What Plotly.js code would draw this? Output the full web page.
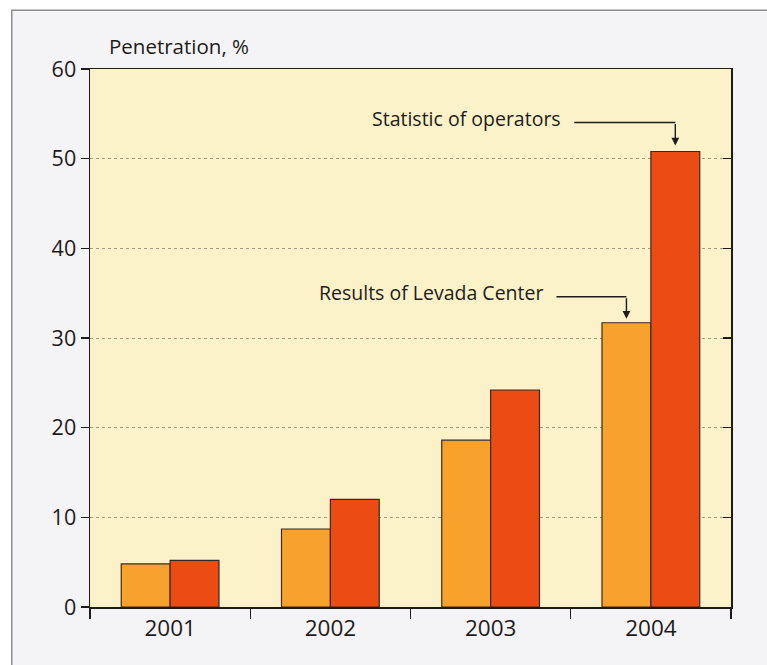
<!DOCTYPE html>
<html>
<head>
<meta charset="utf-8">
<script src="https://cdn.plot.ly/plotly-3.0.1.min.js"></script>
<style>
  html, body { margin: 0; padding: 0; background: #ffffff; }
  #chart { width: 767px; height: 665px; }
</style>
</head>
<body>
<div id="chart"></div>
<script>
// Mobile penetration by year, two sources
const years = ['2001', '2002', '2003', '2004'];
const levada = [4.8, 8.7, 18.6, 31.7];
const operators = [5.2, 12.0, 24.2, 50.8];
const yTicks = [0, 10, 20, 30, 40, 50, 60];
const axisTitle = 'Penetration, %';
const levadaLabel = 'Results of Levada Center';
const operatorsLabel = 'Statistic of operators';

const FONT = 'Open Sans, DejaVu Sans, sans-serif';
const INK = '#1f1b18';
const BARGAP = 0.39;
// centre offset of each bar inside a two-bar group, in category units
const half = (1 - BARGAP) / 4;
const last = years.length - 1;

const barLine = { color: '#3b2a1c', width: 1.2 };

const traces = [
  {
    type: 'bar', x: years, y: levada, name: levadaLabel,
    marker: { color: '#f7a22c', line: barLine },
    hoverinfo: 'x+y'
  },
  {
    type: 'bar', x: years, y: operators, name: operatorsLabel,
    marker: { color: '#ec4b14', line: barLine },
    hoverinfo: 'x+y'
  }
];

// callout: label, horizontal leader and a downward arrow onto a bar top
function callout(xIdx, yVal, label, rise, run, gap) {
  return {
    shape: {
      type: 'line', xref: 'x', yref: 'y',
      xsizemode: 'pixel', ysizemode: 'pixel',
      xanchor: xIdx, yanchor: yVal,
      x0: -run, x1: 0, y0: rise, y1: rise,
      line: { color: INK, width: 1.4 }
    },
    arrow: {
      x: xIdx, y: yVal, xref: 'x', yref: 'y',
      text: '', showarrow: true, ax: 0, ay: -rise,
      arrowhead: 2, arrowsize: 1.1, arrowwidth: 1.4, arrowcolor: INK,
      standoff: gap
    },
    text: {
      x: xIdx, y: yVal, xref: 'x', yref: 'y',
      text: label, showarrow: false,
      xanchor: 'right', yanchor: 'middle',
      xshift: -run - 11, yshift: rise + 4,
      font: { family: FONT, size: 19.5, color: INK }
    }
  };
}

const opCall = callout(last + half, operators[last], operatorsLabel, 29, 101, 6);
const lvCall = callout(last - half, levada[last], levadaLabel, 26, 70, 4);

const layout = {
  width: 767, height: 665,
  margin: { l: 90, r: 36, t: 69, b: 58 },
  paper_bgcolor: '#ffffff',
  plot_bgcolor: '#fbf2ca',
  showlegend: false,
  barmode: 'group',
  bargap: BARGAP,
  bargroupgap: 0,
  font: { family: FONT, color: INK },
  xaxis: {
    type: 'category',
    tickson: 'boundaries',
    ticks: 'outside', ticklen: 10, tickwidth: 1.3, tickcolor: INK,
    showline: true, linecolor: INK, linewidth: 1.5, mirror: true,
    showgrid: false, zeroline: false,
    tickfont: { family: FONT, size: 22.5, color: INK },
    fixedrange: true
  },
  yaxis: {
    range: [0, 60], tickvals: yTicks,
    ticks: 'outside', ticklen: 8, tickwidth: 1.3, tickcolor: INK,
    showline: true, linecolor: INK, linewidth: 1.5, mirror: true,
    showgrid: true, gridcolor: '#a99b80', gridwidth: 1, griddash: 'dot',
    zeroline: false,
    tickfont: { family: FONT, size: 21.5, color: INK },
    fixedrange: true
  },
  yaxis2: {
    overlaying: 'y', side: 'right', anchor: 'x',
    range: [0, 60], tickvals: yTicks,
    ticks: 'inside', ticklen: 8, tickwidth: 1.3, tickcolor: INK,
    showticklabels: false, showgrid: false, zeroline: false, showline: false,
    fixedrange: true
  },
  shapes: [
    // page panel behind the plot
    {
      type: 'rect', xref: 'paper', yref: 'paper', layer: 'below',
      x0: -0.122, x1: 1.2, y0: -0.3, y1: 1.109,
      fillcolor: '#f4f3f6', line: { color: '#8d8d90', width: 1.5 }
    },
    // cream plotting field
    {
      type: 'rect', xref: 'paper', yref: 'paper', layer: 'below',
      x0: 0, x1: 1, y0: 0, y1: 1,
      fillcolor: '#fbf2ca', line: { width: 0 }
    },
    opCall.shape, lvCall.shape
  ],
  annotations: [
    {
      xref: 'paper', yref: 'paper', x: 0.026, y: 1.043,
      xanchor: 'left', yanchor: 'middle', showarrow: false,
      text: axisTitle,
      font: { family: FONT, size: 20.5, color: INK }
    },
    opCall.arrow, opCall.text, lvCall.arrow, lvCall.text
  ]
};

// right-hand inside ticks sit on an overlaid axis carrying an empty trace
traces.push({ type: 'scatter', x: [], y: [], yaxis: 'y2', hoverinfo: 'skip', showlegend: false });

Plotly.newPlot('chart', traces, layout, { displayModeBar: false, staticPlot: true });
</script>
</body>
</html>
